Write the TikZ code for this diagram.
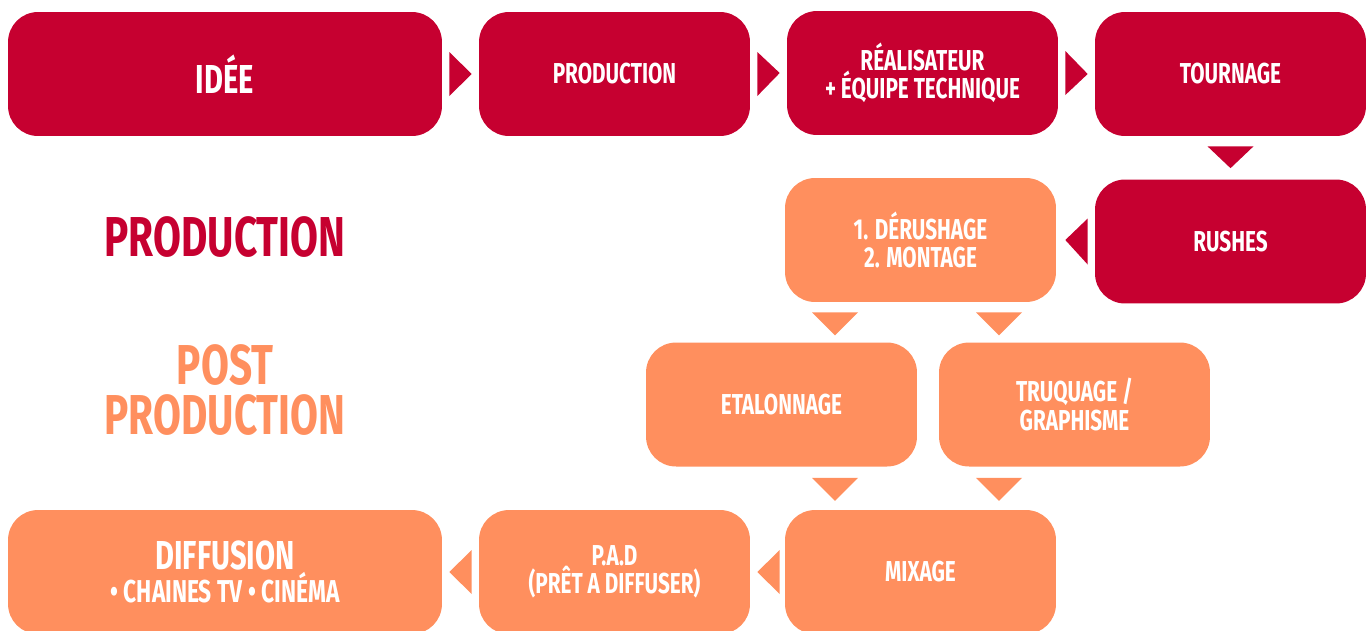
\documentclass[tikz,border=0pt]{standalone}
\usepackage{fontspec}
\setmainfont{Fira Sans}[FakeStretch=0.72]
\usetikzlibrary{calc}
\definecolor{cred}{HTML}{C60030}
\definecolor{corange}{HTML}{FF8F5E}
\begin{document}
\begin{tikzpicture}[x=0.02cm,y=-0.02cm,
  box/.style={rounded corners=0.6cm, minimum height=2.48cm, minimum width=5.42cm, text=white, align=center, inner sep=0pt,
    font=\fontsize{16.4}{16}\selectfont\bfseries},
  wide/.style={minimum width=8.68cm},
  redbox/.style={box, fill=cred},
  orbox/.style={box, fill=corange},
  bigtxt/.style={font=\fontsize{23}{23}\selectfont\bfseries},
  lbl/.style={align=center, inner sep=0pt, font=\fontsize{32}{28}\selectfont\bfseries}
]
\useasboundingbox (0,0) rectangle (1372,630);
% nodes
\node[redbox, wide, bigtxt] (idee) at (225,74) {IDÉE};
\node[redbox] (prod) at (614.5,74) {PRODUCTION};
\node[redbox] (real) at (922.5,73) {RÉALISATEUR\\+ ÉQUIPE TECHNIQUE};
\node[redbox] (tourn) at (1230.5,74) {TOURNAGE};
\node[redbox] (rush) at (1230.5,241.5) {RUSHES};
\node[orbox] (derush) at (920.5,240) {1. DÉRUSHAGE\\2. MONTAGE};
\node[orbox] (etal) at (781.5,404.5) {ETALONNAGE};
\node[orbox] (truq) at (1074.5,404.5) {TRUQUAGE /\\GRAPHISME};
\node[orbox] (mix) at (920.5,572) {MIXAGE};
\node[orbox] (pad) at (614.5,572) {P.A.D\\(PRÊT A DIFFUSER)};
\node[orbox, wide] (diff) at (225,572) {{\fontsize{23}{26}\selectfont DIFFUSION}\\{\fontsize{18}{18}\selectfont • CHAINES TV • CINÉMA}};
\node[lbl, text=cred] (lprod) at (225,237) {PRODUCTION};
\node[lbl, text=corange] (lpost) at (225,390) {POST\\PRODUCTION};
% connectors (triangles)
\fill[cred] ($(idee.east)+(7,-22)$) -- ($(idee.east)+(7,22)$) -- ($(prod.west)+(-7,0)$) -- cycle;
\fill[cred] ($(prod.east)+(7,-22)$) -- ($(prod.east)+(7,22)$) -- ($(real.west)+(-7,0)$) -- cycle;
\fill[cred] ($(real.east)+(7,-22)$) -- ($(real.east)+(7,22)$) -- ($(tourn.west)+(-7,0)$) -- cycle;
\fill[cred] ($(tourn.south)+(-23,10)$) -- ($(tourn.south)+(23,10)$) -- ($(rush.north)+(0,-11)$) -- cycle;
\fill[cred] ($(rush.west)+(-7,-23)$) -- ($(rush.west)+(-7,23)$) -- ($(derush.east)+(9,0)$) -- cycle;
\fill[corange] ($(derush.south)+(-108.5,10)$) -- ($(derush.south)+(-62.5,10)$) -- ($(derush.south)+(-85.5,33)$) -- cycle;
\fill[corange] ($(derush.south)+(55.5,10)$) -- ($(derush.south)+(101.5,10)$) -- ($(derush.south)+(78.5,33)$) -- cycle;
\fill[corange] ($(etal.south)+(30.5,11)$) -- ($(etal.south)+(76.5,11)$) -- ($(etal.south)+(53.5,34)$) -- cycle;
\fill[corange] ($(truq.south)+(-98.5,11)$) -- ($(truq.south)+(-52.5,11)$) -- ($(truq.south)+(-75.5,34)$) -- cycle;
\fill[corange] ($(mix.west)+(-5,-22)$) -- ($(mix.west)+(-5,22)$) -- ($(pad.east)+(7,0)$) -- cycle;
\fill[corange] ($(pad.west)+(-7,-22)$) -- ($(pad.west)+(-7,22)$) -- ($(diff.east)+(7,0)$) -- cycle;
\end{tikzpicture}
\end{document}
